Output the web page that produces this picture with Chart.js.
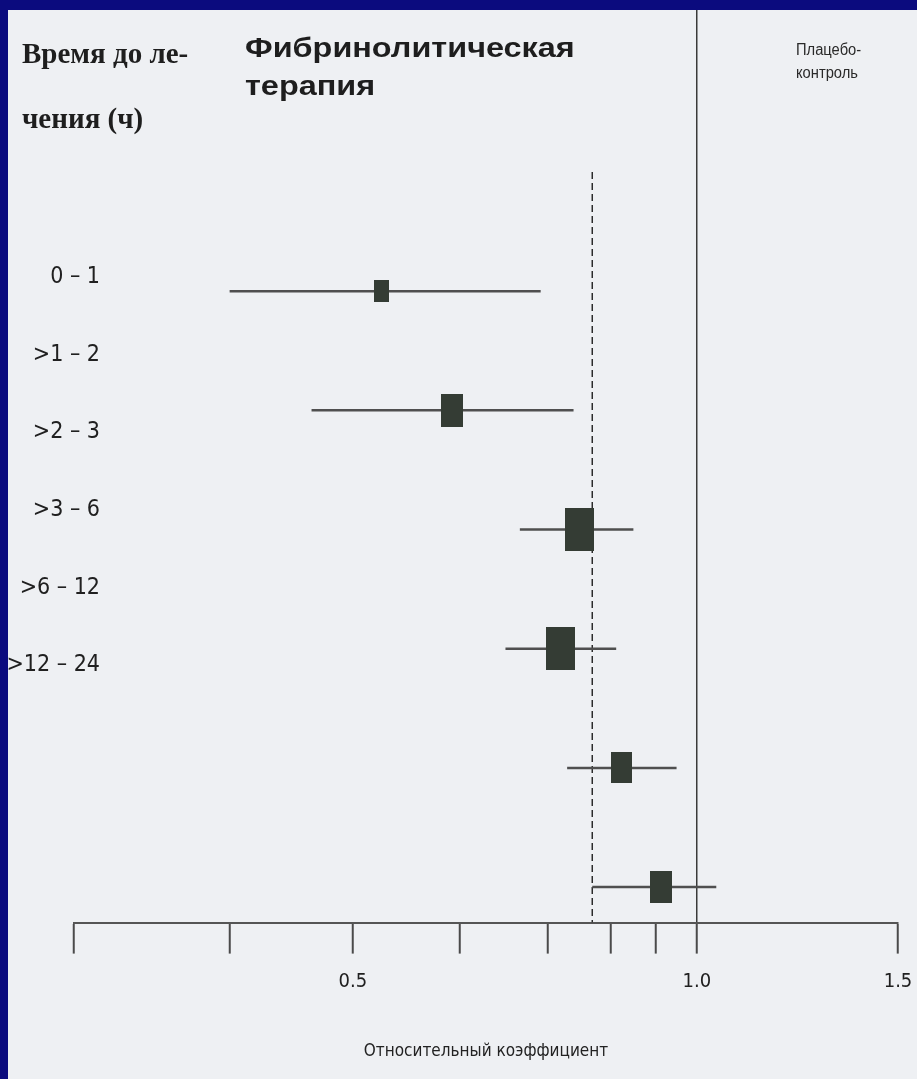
<!DOCTYPE html>
<html>
<head>
<meta charset="utf-8">
<script src="https://cdn.jsdelivr.net/npm/chart.js@4.4.1/dist/chart.umd.min.js"></script>
<style>
  html, body { margin: 0; padding: 0; background: #0b0b7e; }
  #wrap { position: relative; width: 917px; height: 1079px; overflow: hidden; background: #0b0b7e; }
  #paper { position: absolute; left: 8px; top: 10px; width: 909px; height: 1069px; background: #eef0f3; }
  canvas { position: absolute; left: 0; top: 0; }
  .hd { position: absolute; line-height: 1; white-space: nowrap; color: #1e1e1e; transform-origin: left top; }
  .serif { font-family: 'Liberation Serif', 'DejaVu Serif', serif; font-weight: bold; font-size: 29px; }
  .sansb { font-family: 'Liberation Sans', Arial, sans-serif; font-weight: bold; font-size: 27px; transform: scaleX(1.2); }
  .sans { font-family: 'Liberation Sans', Arial, sans-serif; font-size: 16px; color: #2a2a2a; transform: scaleX(0.92); }
</style>
</head>
<body>
<div id="wrap">
  <div id="paper"></div>
  <canvas id="c" width="917" height="1079"></canvas>
  <div class="hd serif" style="left:22px; top:39px;">Время до ле-</div>
  <div class="hd serif" style="left:22px; top:104px;">чения (ч)</div>
  <div class="hd sansb" style="left:245px; top:35px;">Фибринолитическая</div>
  <div class="hd sansb" style="left:245px; top:73px;">терапия</div>
  <div class="hd sans" style="left:796px; top:42px;">Плацебо-</div>
  <div class="hd sans" style="left:796px; top:65px;">контроль</div>
</div>
<script>
// ---- data ----
const rowLabels = ['0 – 1', '>1 – 2', '>2 – 3', '>3 – 6', '>6 – 12', '>12 – 24'];
const oddsRatio = [0.53, 0.61, 0.79, 0.76, 0.86, 0.93];
const ciLow     = [0.39, 0.46, 0.70, 0.68, 0.77, 0.81];
const ciHigh    = [0.73, 0.78, 0.88, 0.85, 0.96, 1.04];
const weights   = [0.51, 0.77, 1.00, 1.00, 0.72, 0.74];
const overallOR = 0.81;
const tickValues = [0.285, 0.39, 0.5, 0.62, 0.74, 0.84, 0.92, 1.0, 1.5];
const tickLabels = ['', '', '0.5', '', '', '', '', '1.0', '1.5'];
const axisTitle = 'Относительный коэффициент';

// ---- styling ----
const narrow = "'Liberation Sans Narrow', 'DejaVu Sans Condensed', 'Liberation Sans', sans-serif";
const LABEL_SIZE = 23;
const LABEL_RIGHT = 100;   // right edge of row labels (px)
const AREA_LEFT = 74;
const BOX_MAX_H = 43;
const boxColor = '#343c34';

function boxImage(w) {
  const h = Math.round(BOX_MAX_H * w);
  const wd = Math.round(h * 0.68);
  const cv = document.createElement('canvas');
  cv.width = wd; cv.height = h;
  const g = cv.getContext('2d');
  g.fillStyle = boxColor;
  g.fillRect(0, 0, wd, h);
  return cv;
}

// measure widest row label so mirrored, right-aligned labels end at LABEL_RIGHT
const mctx = document.createElement('canvas').getContext('2d');
mctx.font = LABEL_SIZE + 'px ' + narrow;
const widest = Math.max(...rowLabels.map(t => mctx.measureText(t).width));
const labelPad = LABEL_RIGHT - AREA_LEFT - widest;

const boxData = oddsRatio.map((v, i) => ({ x: v, y: i }));
const ciData = [];
ciLow.forEach((lo, i) => {
  ciData.push({ x: lo, y: i });
  ciData.push({ x: ciHigh[i], y: i });
  ciData.push({ x: ciHigh[i], y: null });
});
const Y_BOX_MIN = -2.359, Y_BOX_MAX = 5.298;

new Chart(document.getElementById('c'), {
  type: 'scatter',
  data: {
    datasets: [
      {
        data: boxData,
        xAxisID: 'x', yAxisID: 'yBox',
        pointStyle: weights.map(boxImage),
        pointRadius: 6,
        order: 0
      },
      {
        data: ciData,
        xAxisID: 'x', yAxisID: 'yBox',
        showLine: true, spanGaps: false,
        borderColor: '#4f4f4f', borderWidth: 2.5,
        pointRadius: 0,
        order: 1
      },
      {
        data: [{ x: overallOR, y: -1 }, { x: overallOR, y: Y_BOX_MAX }],
        xAxisID: 'x', yAxisID: 'yBox',
        showLine: true,
        borderColor: '#2b2b2b', borderWidth: 1.5, borderDash: [7, 4],
        pointRadius: 0,
        order: 2
      }
    ]
  },
  options: {
    responsive: false,
    animation: false,
    layout: { padding: { top: 10, right: 19, bottom: 17, left: 0 } },
    plugins: { legend: { display: false }, tooltip: { enabled: false } },
    scales: {
      x: {
        type: 'logarithmic',
        position: 'bottom',
        min: 0.285, max: 1.5,
        afterBuildTicks: s => { s.ticks = tickValues.map(v => ({ value: v })); },
        ticks: {
          autoSkip: false, maxRotation: 0, padding: 0,
          color: '#202020',
          font: { family: narrow, size: 20, lineHeight: 2.8 },
          callback: (v, i) => tickLabels[i]
        },
        grid: {
          drawOnChartArea: true,
          color: c => (c.tick && c.tick.value === 1.0) ? '#3a3a3a' : 'rgba(0,0,0,0)',
          lineWidth: 1.5,
          tickColor: '#4a4a4a', tickWidth: 2, tickLength: 31
        },
        border: { display: true, color: '#555555', width: 2 },
        title: {
          display: true, text: axisTitle, color: '#222',
          font: { family: narrow, size: 17 },
          padding: { top: 32, bottom: 0 }
        }
      },
      yLab: {
        type: 'linear', position: 'left', reverse: true,
        min: -3.441, max: 8.312,
        afterBuildTicks: s => { s.ticks = rowLabels.map((_, i) => ({ value: i })); },
        afterFit: s => { s.width = AREA_LEFT; },
        ticks: {
          mirror: true, crossAlign: 'far',
          padding: labelPad, color: '#202020',
          font: { family: narrow, size: LABEL_SIZE },
          callback: (v, i) => rowLabels[i]
        },
        grid: { display: false, drawTicks: false },
        border: { display: false }
      },
      yBox: {
        type: 'linear', position: 'left', reverse: true,
        min: Y_BOX_MIN, max: Y_BOX_MAX,
        display: false
      }
    }
  }
});
</script>
</body>
</html>
